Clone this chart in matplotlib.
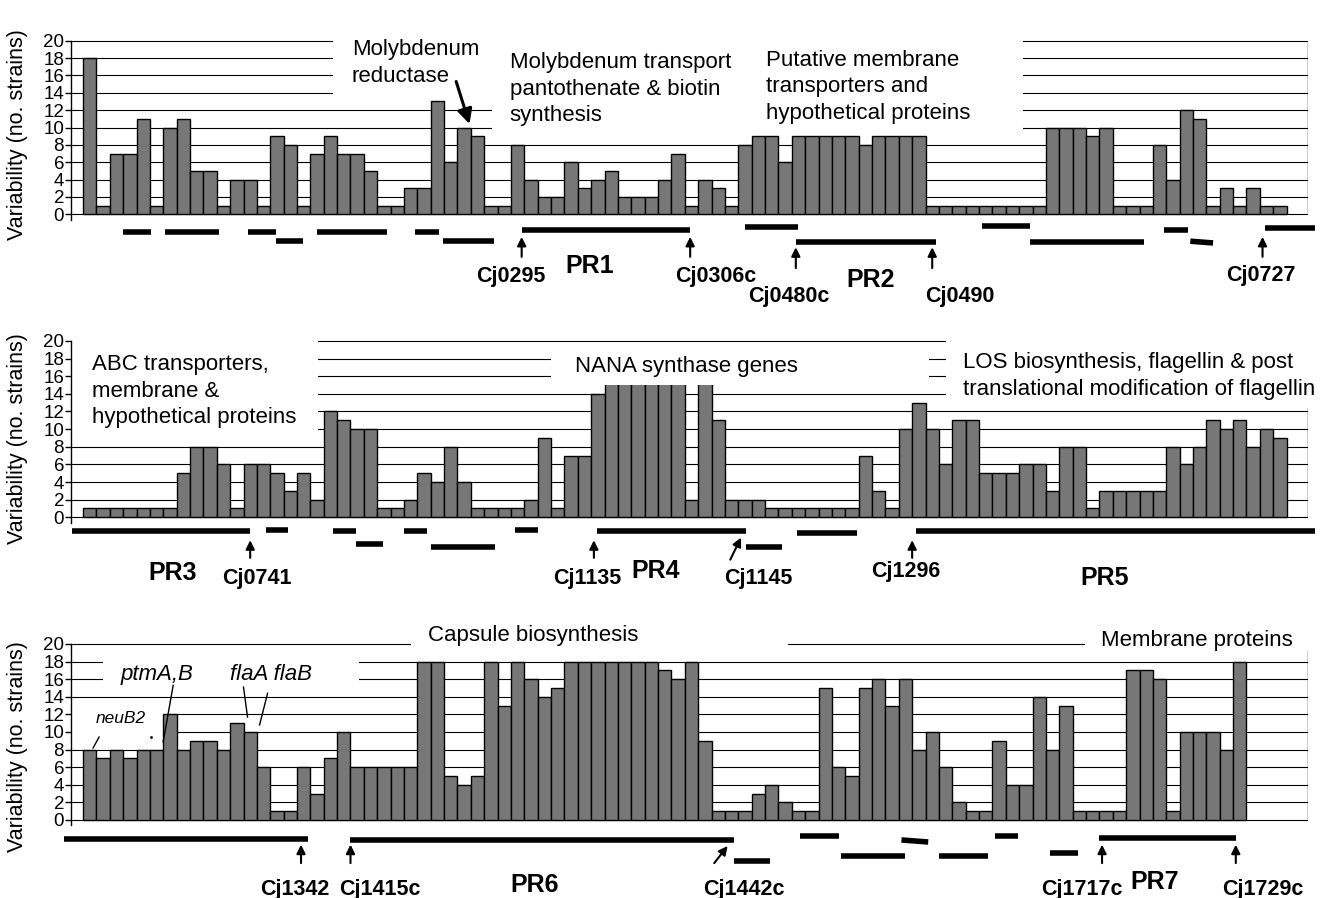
import matplotlib.pyplot as plt
from matplotlib import font_manager
from matplotlib.patches import Rectangle

plt.rcParams['font.family'] = ['Liberation Sans', 'DejaVu Sans']

# number of strains in which each gene is variable, genes in genome order
top_values = [18, 1, 7, 7, 11, 1, 10, 11, 5, 5, 1, 4, 4, 1, 9, 8, 1, 7, 9, 7,
              7, 5, 1, 1, 3, 3, 13, 6, 10, 9, 1, 1, 8, 4, 2, 2, 6, 3, 4, 5,
              2, 2, 2, 4, 7, 1, 4, 3, 1, 8, 9, 9, 6, 9, 9, 9, 9, 9, 8, 9,
              9, 9, 9, 1, 1, 1, 1, 1, 1, 1, 1, 1, 10, 10, 10, 9, 10, 1, 1, 1,
              8, 4, 12, 11, 1, 3, 1, 3, 1, 1]
# the NANA synthase bars run up behind their label, their tops are not visible
middle_values = [1, 1, 1, 1, 1, 1, 1, 5, 8, 8, 6, 1, 6, 6, 5, 3, 5, 2, 12, 11,
                 10, 10, 1, 1, 2, 5, 4, 8, 4, 1, 1, 1, 1, 2, 9, 1, 7, 7, 14, 18,
                 18, 18, 18, 18, 18, 2, 18, 11, 2, 2, 2, 1, 1, 1, 1, 1, 1, 1, 7, 3,
                 1, 10, 13, 10, 6, 11, 11, 5, 5, 5, 6, 6, 3, 8, 8, 1, 3, 3, 3, 3,
                 3, 8, 6, 8, 11, 10, 11, 8, 10, 9]
bottom_values = [8, 7, 8, 7, 8, 8, 12, 8, 9, 9, 8, 11, 10, 6, 1, 1, 6, 3, 7, 10,
                 6, 6, 6, 6, 6, 18, 18, 5, 4, 5, 18, 13, 18, 16, 14, 15, 18, 18, 18, 18,
                 18, 18, 18, 17, 16, 18, 9, 1, 1, 1, 3, 4, 2, 1, 1, 15, 6, 5, 15, 16,
                 13, 16, 8, 10, 6, 2, 1, 1, 9, 4, 4, 14, 8, 13, 1, 1, 1, 1, 17, 17,
                 16, 1, 10, 10, 10, 8, 18]

y_ticks = list(range(0, 21, 2))
y_label = 'Variability (no. strains)'

BAR_COLOR = '#777777'
X_LEFT, X_RIGHT = -1.4, 91.1
W, H = 1322, 898


def label_font():
    # the gene labels look like a narrow bold face
    names = {f.name for f in font_manager.fontManager.ttflist}
    if 'Liberation Sans Narrow' in names:
        return 'Liberation Sans Narrow', 18.5, 22
    return 'Liberation Sans', 15.5, 18


LABEL_FAMILY, CJ_SIZE, PR_SIZE = label_font()


def make_panel(fig, zero_px, unit_px, ymin, values, label_y):
    # place the axes so that one value unit is unit_px pixels high
    ymax = 21.5
    top = zero_px - ymax * unit_px
    bottom = zero_px - ymin * unit_px
    ax = fig.add_axes([71 / W, 1 - bottom / H, 1237 / W, (bottom - top) / H])
    ax.set_xlim(X_LEFT, X_RIGHT)
    ax.set_ylim(ymin, ymax)
    for side in ['top', 'right', 'bottom']:
        ax.spines[side].set_visible(False)
    ax.spines['left'].set_bounds(-0.6, 20)
    ax.spines['left'].set_linewidth(1.0)
    ax.set_xticks([])
    ax.set_yticks(y_ticks)
    ax.tick_params(axis='y', length=4, width=1, pad=1, labelsize=13.5)
    ax.patch.set_visible(False)

    ax.hlines(y_ticks, X_LEFT, X_RIGHT, color='black', lw=0.8, zorder=1)
    ax.vlines(X_RIGHT, 0, 20, color='black', lw=1.0, zorder=1)
    ax.bar(range(len(values)), values, width=1.0, color=BAR_COLOR,
           edgecolor='black', linewidth=1.0, zorder=2)
    ax.text(-5.4, label_y, y_label, rotation=90, fontsize=15.5,
            ha='center', va='center')
    return ax


def mask(ax, x0, x1, y0, y1, z=1.5):
    # white box behind a heading, hides the grid lines there
    ax.add_patch(Rectangle((x0, y0), x1 - x0, y1 - y0, facecolor='white',
                           edgecolor='none', zorder=z))


def segments(ax, segs):
    for seg in segs:
        x0, x1, y0 = seg[:3]
        y1 = seg[3] if len(seg) > 3 else y0
        ax.plot([x0, x1], [y0, y1], color='black', lw=4,
                solid_capstyle='butt', clip_on=False, zorder=3)


def arrow(ax, x0, y0, x1, y1, lw=1.5, size=13):
    ax.annotate('', xy=(x1, y1), xytext=(x0, y0), annotation_clip=False,
                arrowprops=dict(arrowstyle='-|>', color='black', lw=lw,
                                mutation_scale=size, shrinkA=0, shrinkB=0))


def gene_labels(ax, labels):
    for text, x, y in labels:
        size = PR_SIZE if text.startswith('PR') else CJ_SIZE
        ax.text(x, y, text, ha='center', va='center', fontsize=size,
                fontweight='bold', family=[LABEL_FAMILY, 'DejaVu Sans'])


def heading(ax, x, y, text, size=16, **kw):
    ax.text(x, y, text, ha='left', va='center', fontsize=size,
            linespacing=1.35, zorder=3, **kw)


fig = plt.figure(figsize=(W / 100, H / 100), dpi=100)

# ---- top panel ----
ax1 = make_panel(fig, 214.3, 8.68, -10.5, top_values, 9.2)
mask(ax1, 18.2, 30.1, 13, 21.5)
mask(ax1, 30.1, 69.8, 9.3, 21.5)
heading(ax1, 19.6, 17.4, 'Molybdenum\nreductase')
heading(ax1, 31.4, 14.4, 'Molybdenum transport\npantothenate & biotin\nsynthesis')
heading(ax1, 50.6, 14.7, 'Putative membrane\ntransporters and\nhypothetical proteins')
arrow(ax1, 27.4, 15.3, 28.4, 10.4, lw=2.2, size=22)
segments(ax1, [(2.5, 4.6, -2.04), (5.6, 9.7, -2.04), (11.85, 13.95, -2.04),
               (13.95, 15.97, -3.08), (17.0, 22.2, -2.04), (24.3, 26.1, -2.04),
               (26.4, 30.2, -3.08), (32.3, 44.9, -1.81), (49.0, 53.0, -1.47),
               (52.8, 63.3, -3.2), (66.7, 70.3, -1.35), (70.3, 78.8, -3.2),
               (80.3, 82.1, -1.81), (82.3, 84.0, -3.1, -3.3), (87.9, 91.6, -1.58)])
for x in [32.3, 44.9, 87.7]:
    arrow(ax1, x, -4.9, x, -2.6)
for x in [52.8, 63.0]:
    arrow(ax1, x, -6.2, x, -3.8)
gene_labels(ax1, [('Cj0295', 31.5, -7.2), ('PR1', 37.4, -6.0),
                  ('Cj0306c', 46.8, -7.2), ('Cj0480c', 52.3, -9.5),
                  ('PR2', 58.4, -7.6), ('Cj0490', 65.1, -9.5),
                  ('Cj0727', 87.6, -7.0)])

# ---- middle panel ----
ax2 = make_panel(fig, 517.3, 8.82, -10.5, middle_values, 8.9)
mask(ax2, -1.35, 17.1, 9, 21.5)
mask(ax2, 34.5, 62.75, 15, 19.3, z=2.5)
mask(ax2, 64.0, 95, 12.4, 21.5)
heading(ax2, 0.17, 14.3, 'ABC transporters,\nmembrane &\nhypothetical proteins')
heading(ax2, 36.3, 17.1, 'NANA synthase genes')
heading(ax2, 65.3, 16.0, 'LOS biosynthesis, flagellin & post\n'
                         'translational modification of flagellin')
segments(ax2, [(-1.3, 12.0, -1.55), (13.2, 14.8, -1.45), (18.2, 19.9, -1.6),
               (19.9, 21.9, -3.0), (23.5, 25.2, -1.55), (25.5, 30.3, -3.4),
               (31.8, 33.5, -1.45), (37.9, 49.1, -1.55), (49.1, 51.8, -3.4),
               (52.9, 57.4, -1.8), (61.8, 91.6, -1.55)])
for x in [12.0, 37.7, 61.5]:
    arrow(ax2, x, -4.6, x, -2.6)
arrow(ax2, 47.9, -4.8, 48.7, -2.3)
gene_labels(ax2, [('PR3', 6.2, -6.3), ('Cj0741', 12.5, -6.9),
                  ('Cj1135', 37.2, -6.9), ('PR4', 42.3, -6.1),
                  ('Cj1145', 50.0, -6.9), ('Cj1296', 61.0, -6.1),
                  ('PR5', 75.9, -6.9)])

# ---- bottom panel ----
ax3 = make_panel(fig, 820, 8.8, -8.8, bottom_values, 8.4)
mask(ax3, 1.0, 20.1, 15, 19.3)
mask(ax3, -1.35, 5.86, 8.6, 13.3)
mask(ax3, 24.0, 52.2, 19.2, 22)
mask(ax3, 74.4, 95, 19.2, 22)
heading(ax3, 25.3, 21.0, 'Capsule biosynthesis')
heading(ax3, 75.6, 20.45, 'Membrane proteins')
heading(ax3, 0.47, 11.5, 'neuB2', size=12.5, style='italic')
heading(ax3, 2.27, 16.5, 'ptmA,B', style='italic')
heading(ax3, 10.5, 16.5, 'flaA flaB', style='italic')
for (xa, ya), (xb, yb) in [((0.7, 9.43), (0.25, 8.18)), ((6.24, 15.3), (5.49, 8.86)),
                           ((11.5, 15.1), (11.8, 11.7)), ((13.3, 14.4), (12.7, 10.8))]:
    ax3.plot([xa, xb], [ya, yb], color='black', lw=1.0, zorder=3)
ax3.plot(4.6, 9.4, marker='.', ms=2, color='black', zorder=3)
segments(ax3, [(-1.9, 16.3, -2.16), (19.5, 48.2, -2.27), (48.2, 50.9, -4.66),
               (53.1, 56.0, -1.82), (56.2, 61.0, -4.1), (60.7, 62.7, -2.27, -2.5),
               (63.5, 67.2, -4.1), (67.7, 69.4, -1.82), (71.8, 73.9, -3.75),
               (75.5, 85.7, -2.05)])
for x in [15.8, 19.5, 75.7, 85.7]:
    arrow(ax3, x, -4.9, x, -2.8)
arrow(ax3, 46.7, -4.9, 47.7, -2.95)
gene_labels(ax3, [('Cj1342', 15.3, -7.95), ('Cj1415c', 21.7, -7.95),
                  ('PR6', 33.3, -7.4), ('Cj1442c', 48.9, -7.95),
                  ('Cj1717c', 74.2, -7.95), ('PR7', 79.6, -7.0),
                  ('Cj1729c', 87.7, -7.95)])

fig.savefig('out.png', dpi=100)
